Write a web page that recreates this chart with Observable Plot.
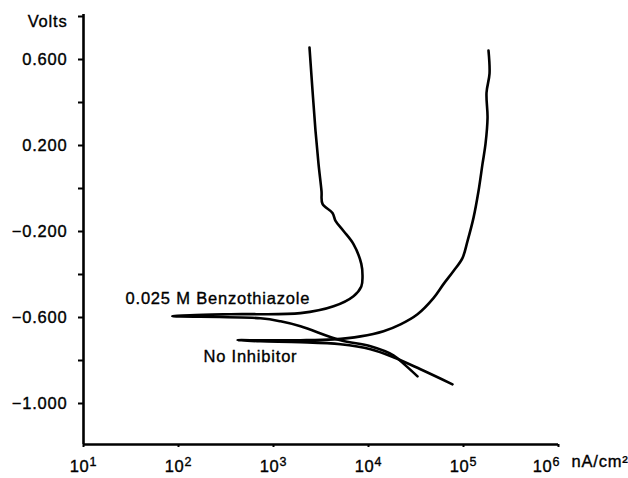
<!DOCTYPE html>
<html><head><meta charset="utf-8">
<script src="https://cdn.jsdelivr.net/npm/d3@7"></script>
<script src="https://cdn.jsdelivr.net/npm/@observablehq/plot@0.6"></script>
<style>body{margin:0;background:#fff} svg text{stroke:#000;stroke-width:0.35px;}</style>
</head><body><div id="chart"></div>
<script>
// 0.025 M Benzothiazole: cathodic end -> corrosion tip -> anodic top
const benzoI = [32800, 24500, 18300, 10500, 5070, 1923, 1186, 729, 86,
  352, 1923, 4285, 6950, 8400, 8650, 8400, 6950, 5460, 4497, 4180, 3280, 3201, 2977, 2768, 2575, 2393];
const benzoV = [-0.883, -0.832, -0.785, -0.743, -0.715, -0.650, -0.627, -0.613, -0.603,
  -0.594, -0.589, -0.557, -0.510, -0.465, -0.420, -0.360, -0.268, -0.207, -0.160, -0.123, -0.081, -0.021, 0.105, 0.259, 0.446, 0.646];
// No Inhibitor
const noInhI = [76600, 35260, 18300, 10500, 5070, 1923, 729, 418,
  729, 1923, 4285, 8240, 14390, 21720, 32800, 48300, 61550, 78500, 97500, 110200, 127400, 143900, 158500, 170600, 179100, 174700, 187900, 183300];
const noInhV = [-0.920, -0.850, -0.794, -0.757, -0.734, -0.724, -0.720, -0.715,
  -0.715, -0.715, -0.711, -0.697, -0.673, -0.641, -0.594, -0.519, -0.454, -0.393, -0.333, -0.254, -0.146, -0.021, 0.105, 0.199, 0.320, 0.436, 0.525, 0.632];

const yTicks = [-1.0, -0.8, -0.6, -0.4, -0.2, 0, 0.2, 0.4, 0.6, 0.8];
const yLabeled = [-1.0, -0.6, -0.2, 0.2, 0.6];
const xTicks = [1e1, 1e2, 1e3, 1e4, 1e5, 1e6];
const curveLabels = ["0.025 M Benzothiazole", "No Inhibitor"];
const curveLabelI = [27.7, 183];
const curveLabelV = [-0.524, -0.794];
const yTitle = "Volts";
const xTitle = "nA/cm²";

const rows = [];
benzoI.forEach((v, i) => rows.push({series: "benzo", I: v, V: benzoV[i]}));
noInhI.forEach((v, i) => rows.push({series: "none", I: v, V: noInhV[i]}));
const labelRows = curveLabels.map((t, i) => ({t, I: curveLabelI[i], V: curveLabelV[i]}));

const fmtY = d => yLabeled.some(v => Math.abs(v - d) < 1e-9)
  ? (d < 0 ? "\u2212" : "") + Math.abs(d).toFixed(3) : "";

const chart = Plot.plot({
  width: 628, height: 478,
  marginLeft: 83, marginRight: 70, marginTop: 14, marginBottom: 34,
  style: {fontFamily: "'Liberation Sans', Arial, sans-serif", fontSize: "16.5px", letterSpacing: "0.8px", color: "#000", background: "#fff"},
  x: {type: "log", domain: [10, 1e6]},
  y: {domain: [-1.2, 0.8]},
  marks: [
    Plot.axisY({ticks: yTicks, tickFormat: fmtY, tickSize: 5, tickPadding: 11, strokeWidth: 2, label: null, dy: 2}),
    Plot.axisX({ticks: xTicks, tickFormat: d => String(Math.round(Math.log10(d))), tickSize: 3, tickPadding: 13, strokeWidth: 2, label: null}),
    Plot.ruleX([10], {strokeWidth: 2.6}),
    Plot.ruleY([-1.2], {strokeWidth: 2.6}),
    Plot.line(rows, {x: "I", y: "V", z: "series", curve: "catmull-rom", stroke: "#000", strokeWidth: 2.6, strokeLinejoin: "round", strokeLinecap: "round"}),
    Plot.text(labelRows, {x: "I", y: "V", text: "t", textAnchor: "start", fill: "#000"}),
    Plot.text([yTitle], {x: 10, y: 0.8, text: d => d, textAnchor: "end", dx: -16, dy: 7, fill: "#000"}),
    Plot.text([xTitle], {x: 1e6, y: -1.2, text: d => d, textAnchor: "start", dx: 13, dy: 17, fill: "#000"})
  ]
});
document.getElementById("chart").appendChild(chart);

// turn exponent tick labels into 10 with a superscript; last label sits left of the axis end
const xl = d3.select(chart).selectAll('g[aria-label="x-axis tick label"] text');
const nLab = xl.size();
xl.each(function(_, i) {
  const e = this.textContent;
  const t = d3.select(this);
  t.text("10");
  if (i === nLab - 1) t.attr("dx", -12);
  t.append("tspan").attr("dy", "-0.5em").attr("font-size", "12.5px").text(e);
});
</script>
</body></html>
